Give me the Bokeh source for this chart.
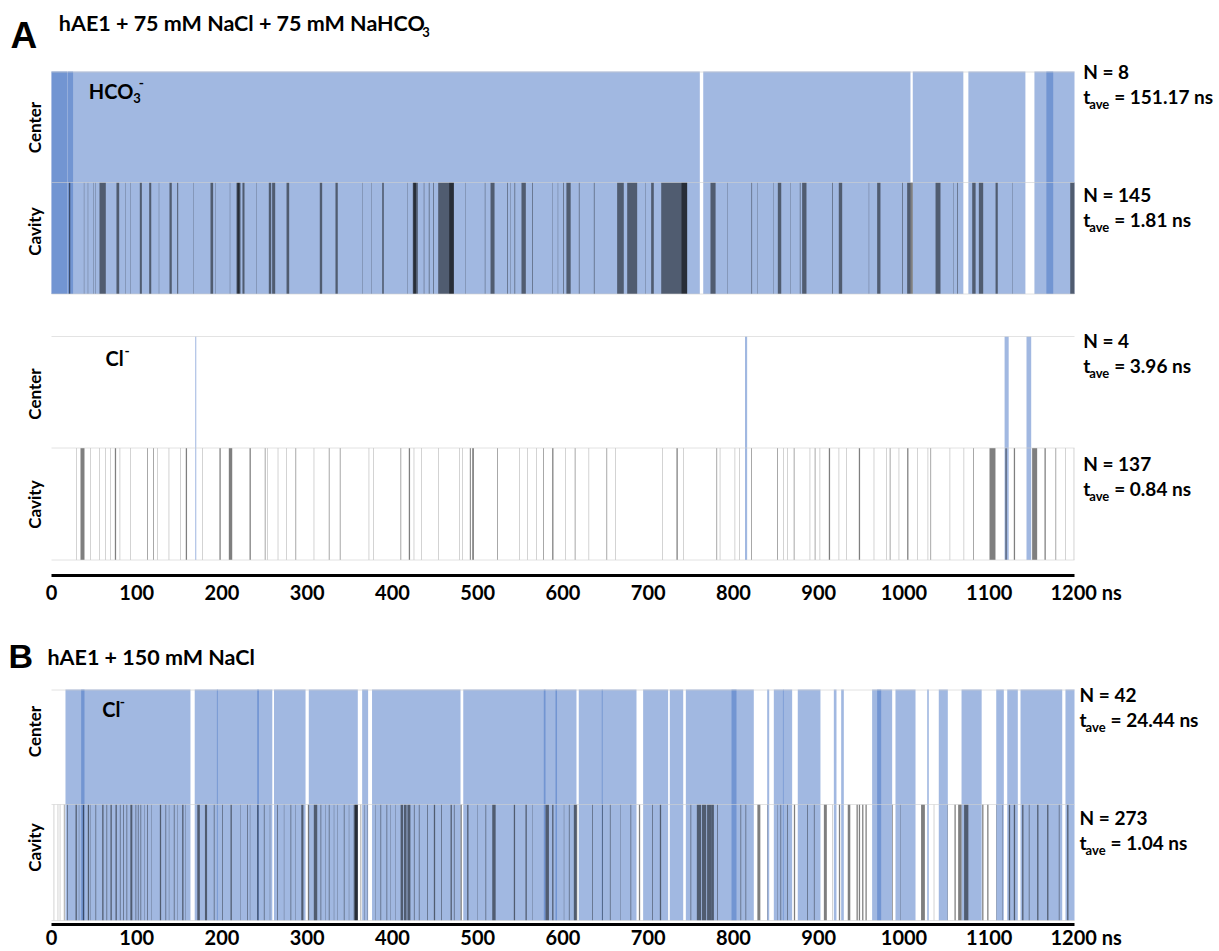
import numpy as np
from bokeh.plotting import figure
from bokeh.models import Range1d, FixedTicker, Label, ColumnDataSource
from bokeh.layouts import column
from bokeh.embed import file_html
from bokeh.resources import INLINE

# ---------------- data (ns) ----------------
X_TICKS = [0, 100, 200, 300, 400, 500, 600, 700, 800, 900, 1000, 1100, 1200]
X_UNIT = "ns"

hco3_center_start = [0, 0, 19.3, 764.5, 1010.3, 1075.5, 1153, 1167]
hco3_center_dur = [760.5, 18.4, 6.0, 243.1, 59.3, 66.9, 47, 8]
hco3_cavity_start = [20.5, 38, 42.6, 48.9, 51.6, 56.3, 76.2, 86.8, 92.7, 103.6, 114.6, 125.9,
                     138.4, 147.4, 166.2, 186.5, 192.4, 209.2, 217, 218, 224, 240.5, 254.9,
                     258.8, 275.7, 314.7, 333.1, 364.4, 375.4, 387.9, 417.2, 423.8, 424.5,
                     436.7, 442.6, 447.7, 453.6, 466.5, 485.6, 508.3, 515, 534.5, 538.4,
                     543.1, 551.3, 563.8, 587.3, 593.9, 600.1, 604, 618.6, 636.2, 663.5,
                     675.3, 696.8, 703.4, 715.2, 739, 773, 792.6, 821, 827.7, 846.5, 852,
                     866.9, 877.8, 880.5, 915.7, 923.5, 958.7, 968.5, 997.8, 1003.7, 1037,
                     1057.7, 1062.4, 1080, 1087.8, 1107.4, 1126.9, 1195]
hco3_cavity_dur = [1.5, 0.4, 0.4, 0.4, 0.4, 7.4, 3.2, 0.4, 0.4, 2.4, 2.4, 0.4,
                   2.7, 1.2, 0.4, 3.1, 0.4, 0.4, 4.7, 2.5, 2.4, 0.4, 2.8,
                   3.6, 3.1, 2.8, 2.7, 0.4, 0.4, 1.9, 0.4, 5.9, 3.0,
                   0.6, 0.8, 0.8, 18.3, 5.5, 0.4, 0.6, 4.7, 0.8, 0.4,
                   0.8, 5.1, 0.8, 0.4, 0.4, 0.8, 5.0, 0.8, 0.8, 7.8,
                   11.7, 0.4, 3.1, 30.4, 6.6, 6.0, 0.4, 0.8, 0.4, 0.4, 4.0,
                   0.4, 0.8, 5.1, 0.8, 4.0, 0.4, 3.9, 0.8, 6.6, 5.8,
                   0.4, 0.8, 4.0, 5.1, 2.6, 0.4, 5.0]

cla_center_start = [168.6, 813.5, 1118, 1143.7]
cla_center_dur = [1.2, 2.5, 4.8, 5.5]
cla_cavity_start = [29.3, 34, 45.7, 55.9, 63.3, 69.2, 74.3, 80.1, 92.7, 112.3, 119.3, 124, 137.6,
                    151.3, 157.5, 176.8, 197, 208, 232.3, 250.2, 252.9, 265.5, 275.7, 286.2,
                    307.7, 325.3, 338.2, 372.2, 377.3, 409.4, 419.1, 425, 434, 453.6, 478.6,
                    481.7, 490.7, 493.5, 522.7, 549, 558, 568.9, 576.7, 587.3, 602.9, 613.8,
                    630.2, 651, 661.6, 716.3, 733.1, 741, 780, 784, 801.5, 807, 820.8, 851.3,
                    858.3, 863, 870.7, 889.5, 895.3, 901.2, 911.8, 923.5, 932.6, 947, 964.6,
                    979.5, 983.3, 993.9, 1003.7, 1015.4, 1027.9, 1031, 1053.7, 1070.1, 1081.1,
                    1100.3, 1119, 1128.8, 1150.3, 1164.8, 1177.7, 1189.4, 1199.2]
cla_cavity_dur = [0.4, 4.7, 0.4, 0.4, 0.4, 0.4, 1.5, 0.4, 0.4, 0.8, 0.8, 0.4, 0.4,
                  0.4, 1.5, 0.4, 1.5, 4.0, 1.5, 0.8, 0.4, 0.4, 0.4, 0.8,
                  0.4, 0.8, 0.8, 0.4, 0.4, 0.8, 1.5, 0.4, 0.4, 0.4, 0.4,
                  0.4, 1.2, 2.0, 0.8, 0.4, 0.4, 0.4, 0.8, 1.5, 0.4, 0.8,
                  0.4, 0.8, 0.4, 0.4, 1.5, 0.4, 0.8, 0.4, 0.4, 0.4, 0.8, 0.8,
                  0.4, 0.4, 0.8, 0.4, 0.8, 0.4, 1.5, 0.4, 0.4, 1.5, 0.4,
                  0.4, 0.8, 0.4, 1.5, 0.4, 0.4, 0.8, 0.4, 0.4, 0.8,
                  7.0, 1.5, 1.5, 5.9, 1.5, 0.8, 0.4, 0.4]

clb_center_start = [16.4, 34.8, 168, 194, 241.3, 261, 301.8, 364.4, 376, 483, 577.5, 591.2,
                    618.5, 645.5, 694, 725.3, 744.1, 797.7, 839.5, 847.3, 858, 875.4, 917.7,
                    926.3, 962.6, 968.5, 990, 1027.2, 1040.8, 1067.5, 1108.2, 1121.1,
                    1136.7, 1189.4]
clb_center_dur = [146.6, 3.9, 91, 1.0, 2.0, 37, 57.5, 7.0, 103.8, 96.5, 15.5, 24.6,
                  67.7, 1.0, 29.3, 15.7, 79.7, 5.8, 2.4, 11.5, 10.8, 26.6, 3.1,
                  3.1, 23.5, 4.7, 23.5, 1.9, 10.6, 23.6, 8.9, 12.4,
                  48.9, 10.6]
clb_cavity_start = [2.7, 7.4, 9.8, 14.5, 18.4, 28.2, 32.1, 36.8, 42.6, 45.8, 51.6, 59.5, 64.5,
                    69.2, 75.1, 80.2, 84.1, 88, 92.5, 98.6, 101.3, 104.4, 109.1, 112.2, 116.9,
                    127.1, 133.7, 137.7, 143.5, 147.4, 153.3, 157.2, 171, 180, 190.4, 200.2,
                    210, 221.7, 229.5, 232.7, 241.3, 249.1, 256.1, 264.7, 272.6, 280.4, 286.2,
                    293, 300.7, 307.7, 315.6, 321.4, 325.3, 331.2, 335.1, 342.9, 348.8, 354.5,
                    356, 362.5, 367.2, 370.3, 380.1, 385.9, 393, 397.7, 403.5, 409.5, 413.5,
                    417.5, 425.1, 430.9, 440.7, 448.5, 457.1, 468.1, 472, 479.8, 487.6, 499.3,
                    509.1, 517, 542.3, 556, 563.8, 579.5, 587.3, 601, 606.9, 612.7, 634.2,
                    646, 655, 667.5, 679.2, 689, 704.6, 713.6, 749.6, 757, 763, 769, 774,
                    780.9, 808.2, 814.1, 828, 839.5, 851.2, 855.1, 863, 870.8, 886.4, 894.3,
                    906, 915.7, 923.6, 934, 944.3, 947, 950.9, 954.8, 986.1, 995.9, 1020,
                    1035, 1050.6, 1059.2, 1063.5, 1070.5, 1091.7, 1097.6, 1108.5, 1115.2,
                    1123, 1128.8, 1138.6, 1146.4, 1156.2, 1167.9, 1181.6, 1191.4]
clb_cavity_dur = [0.4, 0.4, 0.4, 0.8, 0.8, 1.5, 0.4, 1.5, 1.5, 0.4, 0.8, 1.5, 0.8,
                  1.5, 1.5, 0.8, 0.8, 0.8, 2.3, 0.8, 0.8, 0.8, 0.4, 0.8, 0.4,
                  1.5, 0.8, 0.4, 0.8, 0.4, 1.5, 0.4, 3.0, 2.5, 0.8, 0.8,
                  1.5, 0.4, 0.8, 0.4, 1.5, 0.8, 0.4, 0.8, 0.4, 0.8, 0.4,
                  2.5, 1.5, 4.0, 0.8, 0.4, 0.8, 0.4, 0.4, 0.8, 0.4, 5.0,
                  3.0, 0.8, 0.4, 0.4, 0.4, 0.8, 0.8, 0.4, 0.4, 3.0, 3.0,
                  3.5, 0.8, 0.8, 0.8, 1.5, 0.8, 1.5, 0.8, 1.5, 1.5, 0.4,
                  0.8, 4.0, 1.5, 1.5, 0.4, 4.0, 1.5, 0.4, 0.8, 4.0, 0.8,
                  0.8, 0.8, 0.4, 0.8, 1.5, 0.8, 1.5, 0.8, 5.0, 5.0, 5.0, 3.0,
                  0.8, 0.8, 0.8, 3.5, 0.4, 0.4, 0.8, 0.8, 1.5, 0.8, 0.8,
                  3.5, 0.4, 1.5, 3.0, 1.5, 1.5, 1.5, 1.5, 0.8, 0.4, 4.5,
                  0.4, 0.4, 1.5, 4.0, 5.0, 1.5, 1.5, 0.4, 0.4,
                  1.5, 1.5, 1.5, 0.8, 1.5, 1.5, 0.8, 1.5]

row_names = ["Center", "Cavity"]
n_events = [8, 145, 4, 137, 42, 273]
t_ave = [151.17, 1.81, 3.96, 0.84, 24.44, 1.04]

# ---------------- style / layout ----------------
BLUE = "#4472C4"
FONT = "Lato"
W = 1219
PX_PER_NS = 0.8525
X0_PX = 51
X_LO = -X0_PX / PX_PER_NS
X_HI = (W - X0_PX) / PX_PER_NS


def events(p, starts, durs, top, bottom, color, alpha):
    s = np.asarray(starts, dtype=float)
    d = np.asarray(durs, dtype=float)
    src = ColumnDataSource(dict(left=s, right=s + d))
    p.quad(left="left", right="right", top=top, bottom=bottom, source=src,
           fill_color=color, fill_alpha=alpha, line_color=None)


def lab(p, x, y, text, size, xoff=0, font=FONT, align="left", baseline="alphabetic", angle=0.0):
    # y is the wanted text baseline; text is placed by its middle (cap centre)
    if baseline == "alphabetic":
        y = y - 0.36 * size
        baseline = "middle"
    p.add_layout(Label(x=x, y=y, text=text, x_offset=xoff, text_font=font,
                       text_font_size=f"{size}px", text_font_style="bold",
                       text_align=align, text_baseline=baseline, angle=angle,
                       text_color="black"))


def stat(p, x, y_n, n, t, xoff_eq=31):
    lab(p, x, y_n, f"N = {n}", 19)
    lab(p, x, y_n + 25, "t", 19)
    lab(p, x, y_n + 30, "ave", 13, xoff=6)
    lab(p, x, y_n + 25, f"= {t:.2f} ns", 19, xoff=xoff_eq)


def make_fig(height, y_lo, y_hi, bottom_border, standoff, fixed=None, tick_size=20):
    p = figure(width=W, height=height, x_range=Range1d(X_LO, X_HI), y_range=Range1d(y_hi, y_lo),
               output_backend="svg", toolbar_location=None,
               min_border_left=0, min_border_right=0, min_border_top=0,
               min_border_bottom=bottom_border)
    p.outline_line_color = None
    p.grid.visible = False
    p.yaxis.visible = False
    p.background_fill_color = "white"
    p.border_fill_color = "white"
    ax = p.xaxis[0]
    ax.axis_label = None
    if fixed is not None:
        ax.fixed_location = fixed
    ax.ticker = FixedTicker(ticks=X_TICKS)
    ax.bounds = (X_TICKS[0], X_TICKS[-1])
    ax.major_label_overrides = {X_TICKS[-1]: "\u2007\u2007" + f"{X_TICKS[-1]} {X_UNIT}"}
    ax.axis_line_width = 3
    ax.axis_line_color = "black"
    ax.major_tick_line_color = None
    ax.minor_tick_line_color = None
    ax.major_tick_out = 0
    ax.major_tick_in = 0
    ax.minor_tick_out = 0
    ax.major_label_standoff = standoff
    ax.major_label_text_font = FONT
    ax.major_label_text_font_size = f"{tick_size}px"
    ax.major_label_text_font_style = "bold"
    ax.major_label_text_color = "black"
    return p


# ---------------- figure A (y data = page px - 71) ----------------
pa = make_fig(610, -71, 504, 35, 4)
HC_T, HC_M, HC_B = 0, 111, 222.5
CL_T, CL_M, CL_B = 265, 376.5, 488.5

events(pa, hco3_center_start, hco3_center_dur, HC_T, HC_B, BLUE, 0.5)
events(pa, hco3_cavity_start, hco3_cavity_dur, HC_M, HC_B, "black", 0.5)
events(pa, cla_center_start, cla_center_dur, CL_T, CL_B, BLUE, 0.5)
events(pa, cla_cavity_start, cla_cavity_dur, CL_M, CL_B, "black", 0.5)
pa.segment(x0=[0] * 6, x1=[1200] * 6, y0=[0.5, HC_M, HC_B, CL_T, CL_M, CL_B],
           y1=[0.5, HC_M, HC_B, CL_T, CL_M, CL_B], line_color="#D0D0D0", line_alpha=0.6, line_width=1)

lab(pa, -48.1, -22.7, "A", 37, font="Liberation Sans")
lab(pa, 8.6, -40.3, "hAE1 + 75 mM NaCl + 75 mM NaHCO", 21.5)
lab(pa, 435, -35, "3", 13)
lab(pa, 43.8, 26.5, "HCO", 20)
lab(pa, 95.8, 30.7, "3", 13)
lab(pa, 102.4, 17, "-", 14)
lab(pa, 63.3, 294, "Cl", 20)
lab(pa, 85.6, 285, "-", 14)
for yc, name in zip([56, 160, 322.5, 433], row_names * 2):
    lab(pa, -20, yc, name, 17, align="center", baseline="middle", angle=np.pi / 2)
stat(pa, 1210.2, 7.3, n_events[0], t_ave[0])
stat(pa, 1210.2, 129.7, n_events[1], t_ave[1])
stat(pa, 1210.2, 276.3, n_events[2], t_ave[2])
stat(pa, 1210.2, 399, n_events[3], t_ave[3])

# ---------------- figure B (y data = page px - 689) ----------------
pb = make_fig(341, -79, 262, 0, 0, fixed=235)
B_T, B_M, B_B = 0, 115, 231
events(pb, clb_center_start, clb_center_dur, B_T, B_B, BLUE, 0.5)
events(pb, clb_cavity_start, clb_cavity_dur, B_M, B_B, "black", 0.5)
pb.segment(x0=[0] * 3, x1=[1200] * 3, y0=[0.5, B_M, B_B], y1=[0.5, B_M, B_B],
           line_color="#D0D0D0", line_alpha=0.6, line_width=1)
lab(pb, -50.4, -21, "B", 34, font="Liberation Sans")
lab(pb, -4.7, -25, "hAE1 + 150 mM NaCl", 21.5)
lab(pb, 59.5, 27, "Cl", 20)
lab(pb, 80, 18, "-", 14)
for yc, name in zip([42, 158], row_names):
    lab(pb, -20, yc, name, 17, align="center", baseline="middle", angle=np.pi / 2)
stat(pb, 1205.9, 12, n_events[4], t_ave[4])
stat(pb, 1205.9, 135, n_events[5], t_ave[5])

layout = column(pa, pb)
open("out.html", "w").write(file_html(layout, INLINE))
